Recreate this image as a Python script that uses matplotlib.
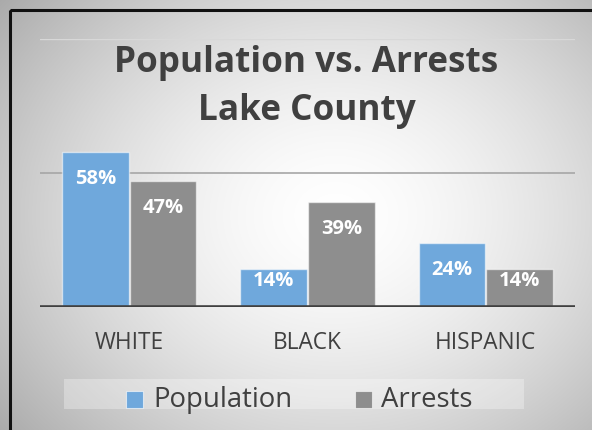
import numpy as np
import matplotlib
matplotlib.use('Agg')
import matplotlib.pyplot as plt
from matplotlib.patches import Rectangle

# Data
groups = ['WHITE', 'BLACK', 'HISPANIC']
population = [0.58, 0.14, 0.24]
arrests = [0.47, 0.39, 0.14]
series_names = ['Population', 'Arrests']

W, H = 592, 430
C_POP = '#6FA8DC'
C_ARR = '#8E8E8E'
C_TXT = '#404040'
FONT = 'Open Sans'


def fx(px):
    return px / W


def fy(py):
    # pixel row (from top) -> figure fraction
    return 1 - py / H


def main():
    fig = plt.figure(figsize=(W / 100, H / 100), dpi=100)

    # Radial background gradient
    bg = fig.add_axes([0, 0, 1, 1], zorder=0)
    yy, xx = np.mgrid[0:H, 0:W]
    d = np.sqrt(((xx - 335) / 330.0) ** 2 + ((yy - 215) / 270.0) ** 2)
    shade = 1 - 0.22 * np.clip(d, 0, 1.3) ** 1.6
    bg.imshow(np.dstack([shade] * 3), aspect='auto', extent=(0, W, H, 0))
    bg.set_xlim(0, W)
    bg.set_ylim(H, 0)
    bg.axis('off')

    # Black outer border (only left and top fall inside the picture)
    bg.add_patch(Rectangle((10, 9.5), 590, 430, fill=False, ec='#111111', lw=2.2))

    # Plot area
    ax = fig.add_axes([fx(40), fy(307), fx(575 - 40), fy(39) - fy(307)], zorder=2)
    ax.patch.set_alpha(0)
    px_per_unit = fy(39) * H - fy(307) * H

    x = np.arange(len(groups))
    width = 0.373
    off = 0.19
    b1 = ax.bar(x - off, population, width, color=C_POP,
                edgecolor=(1, 1, 1, 0.55), linewidth=1.0, zorder=3)
    b2 = ax.bar(x + off, arrests, width, color=C_ARR,
                edgecolor=(1, 1, 1, 0.55), linewidth=1.0, zorder=3)

    # inside-end labels; short bars push the label up toward the top
    for bars in (b1, b2):
        for rect in bars:
            h = rect.get_height()
            drop = min(27, h * px_per_unit - 25.5) * 0.72
            ax.annotate(f'{h * 100:.0f}%', (rect.get_x() + rect.get_width() / 2, h),
                        xytext=(0, -drop), textcoords='offset points',
                        ha='center', va='center', color='white',
                        fontsize=14.5, fontweight='bold', family=FONT, zorder=4)

    ax.set_xlim(-0.5, len(groups) - 0.5)
    ax.set_ylim(0, 1)

    # Gridlines and baseline
    ax.axhline(0.5, color='#A6A6A6', lw=1.2, zorder=1)
    ax.axhline(1.0, color='#D8D8D8', lw=1.0, zorder=1)
    ax.axhline(0, color=C_TXT, lw=2.6, zorder=5)

    for s in ax.spines.values():
        s.set_visible(False)
    ax.set_yticks([])
    ax.set_xticks(x)
    ax.set_xticklabels(groups, family=FONT, fontsize=16.3, color=C_TXT)
    ax.tick_params(axis='x', length=0, pad=17.5)

    # Title
    tx0 = fx(306.5)
    fig.text(tx0, fy(72), 'Population vs. Arrests', ha='center', va='baseline',
             fontsize=25.3, fontweight='bold', color=C_TXT, family=FONT, zorder=3)
    fig.text(tx0, fy(120), 'Lake County', ha='center', va='baseline',
             fontsize=25.3, fontweight='bold', color=C_TXT, family=FONT, zorder=3)

    # Legend box drawn by hand
    bg.add_patch(Rectangle((64, 379), 460, 30, fc='white', alpha=0.3, ec='none'))
    items = [(126, 153), (355, 381)]
    for (sx, tx), name, col in zip(items, series_names, [C_POP, C_ARR]):
        bg.add_patch(Rectangle((sx, 391), 17, 17, fc=col,
                               ec=(1, 1, 1, 0.6), lw=0.8))
        bg.text(tx, 400, name, ha='left', va='center', fontsize=19.8,
                color=C_TXT, family=FONT)

    fig.savefig('out.png', dpi=100)


if __name__ == '__main__':
    main()
